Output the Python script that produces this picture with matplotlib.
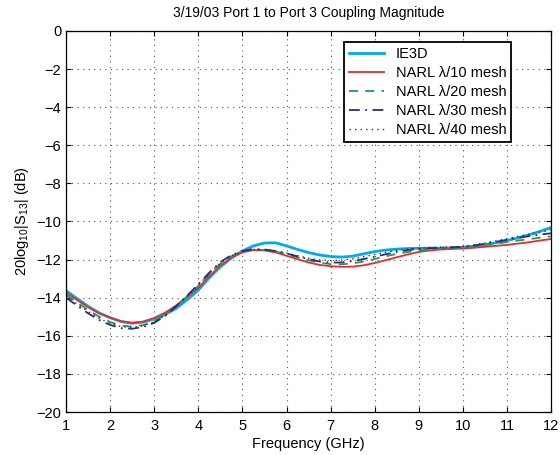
import matplotlib
matplotlib.use("Agg")
import matplotlib.pyplot as plt

freq = [1.0, 1.25, 1.5, 1.75, 2.0, 2.25, 2.5, 2.75, 3.0, 3.25, 3.5, 3.75, 4.0, 4.25, 4.5, 4.75,
        5.0, 5.25, 5.5, 5.75, 6.0, 6.25, 6.5, 6.75, 7.0, 7.25, 7.5, 7.75, 8.0, 8.25, 8.5, 8.75,
        9.0, 9.25, 9.5, 9.75, 10.0, 10.25, 10.5, 10.75, 11.0, 11.25, 11.5, 11.75, 12.0]
ie3d = [-13.63, -14.05, -14.45, -14.8, -15.05, -15.25, -15.34, -15.28, -15.12, -14.88, -14.55, -14.1,
        -13.6, -12.95, -12.38, -11.92, -11.55, -11.28, -11.13, -11.12, -11.28, -11.47, -11.63, -11.76,
        -11.84, -11.87, -11.82, -11.7, -11.58, -11.5, -11.45, -11.42, -11.41, -11.4, -11.4, -11.39,
        -11.36, -11.3, -11.22, -11.12, -11.0, -10.86, -10.7, -10.52, -10.32]
narl10 = [-13.75, -14.12, -14.5, -14.82, -15.05, -15.24, -15.32, -15.26, -15.06, -14.78, -14.4, -13.95,
          -13.48, -12.87, -12.32, -11.9, -11.62, -11.5, -11.52, -11.62, -11.8, -11.98, -12.15, -12.28,
          -12.35, -12.38, -12.37, -12.3, -12.18, -12.03, -11.88, -11.73, -11.6, -11.52, -11.47, -11.44,
          -11.42, -11.38, -11.33, -11.28, -11.23, -11.16, -11.09, -11.0, -10.92]
narl20 = [-13.85, -14.25, -14.65, -15.0, -15.28, -15.47, -15.52, -15.44, -15.25, -14.9, -14.45, -13.92,
          -13.38, -12.76, -12.22, -11.82, -11.58, -11.48, -11.5, -11.58, -11.72, -11.88, -12.03, -12.16,
          -12.24, -12.25, -12.2, -12.1, -11.97, -11.83, -11.7, -11.6, -11.52, -11.46, -11.42, -11.4,
          -11.37, -11.32, -11.25, -11.17, -11.08, -11.0, -10.93, -10.85, -10.78]
narl30 = [-14.0, -14.42, -14.82, -15.17, -15.43, -15.6, -15.63, -15.53, -15.32, -14.95, -14.45, -13.88,
          -13.3, -12.68, -12.13, -11.76, -11.55, -11.45, -11.47, -11.55, -11.68, -11.83, -11.98, -12.1,
          -12.16, -12.15, -12.08, -11.97, -11.85, -11.72, -11.6, -11.5, -11.44, -11.4, -11.38, -11.36,
          -11.33, -11.26, -11.17, -11.07, -10.96, -10.86, -10.77, -10.69, -10.62]
narl40 = [-13.92, -14.33, -14.73, -15.08, -15.35, -15.52, -15.56, -15.47, -15.27, -14.92, -14.45, -13.9,
          -13.34, -12.72, -12.18, -11.8, -11.57, -11.47, -11.48, -11.55, -11.66, -11.8, -11.93, -12.02,
          -12.05, -12.03, -11.96, -11.85, -11.73, -11.62, -11.52, -11.45, -11.4, -11.37, -11.35, -11.33,
          -11.3, -11.23, -11.13, -11.02, -10.9, -10.78, -10.67, -10.56, -10.45]
labels = ["IE3D", "NARL \u03bb/10 mesh", "NARL \u03bb/20 mesh", "NARL \u03bb/30 mesh", "NARL \u03bb/40 mesh"]
xticks = list(range(1, 13))
yticks = list(range(-20, 1, 2))

plt.rcParams['font.family'] = ['Liberation Sans', 'DejaVu Sans']
plt.rcParams['font.size'] = 10
plt.rcParams['mathtext.fontset'] = 'custom'
plt.rcParams['mathtext.rm'] = 'Liberation Sans'
plt.rcParams['mathtext.it'] = 'Liberation Sans'

fig = plt.figure(figsize=(5.6, 4.55), dpi=100)
ax = fig.add_axes([0.118, 0.0945, 0.866, 0.8375])

ax.plot(freq, ie3d, color='#00aaee', lw=2.0, label=labels[0])
ax.plot(freq, narl10, color='#ee2a2a', lw=1.3, label=labels[1])
ax.plot(freq, narl20, color='#1aa04a', lw=1.3, ls=(0, (5, 4)), label=labels[2])
ax.plot(freq, narl30, color='#2a2a90', lw=1.3, ls=(0, (6, 3, 1, 3)), label=labels[3])
ax.plot(freq, narl40, color='#333333', lw=1.0, ls=(0, (1, 3)), label=labels[4])

ax.set_xlim(1, 12)
ax.set_ylim(-20, 0)
ax.set_xticks(xticks)
ax.set_yticks(yticks)
ax.set_yticklabels([("\u2212" + str(-t)) if t < 0 else str(t) for t in yticks])
ax.tick_params(direction='in', top=True, right=True, length=3.5, width=0.8, labelsize=10.5)
ax.tick_params(axis='x', pad=5)
ax.grid(True, ls=(0, (1, 4)), color='#555555', lw=0.8)
for s in ax.spines.values():
    s.set_linewidth(0.9)

ax.set_title("3/19/03 Port 1 to Port 3 Coupling Magnitude", fontsize=10, pad=10)
ax.set_xlabel("Frequency (GHz)", fontsize=10.5, labelpad=3)
ax.set_ylabel(r"20log$_{10}$|S$_{13}$| (dB)", fontsize=10.5, labelpad=4)

leg = ax.legend(loc='upper left', bbox_to_anchor=(0.573, 0.97), frameon=True, fancybox=False,
                edgecolor='black', framealpha=1, handlelength=2.4, borderpad=0.35,
                labelspacing=0.33, fontsize=10.5, borderaxespad=0)
leg.get_frame().set_linewidth(1.3)

fig.savefig("out.png", dpi=100)
